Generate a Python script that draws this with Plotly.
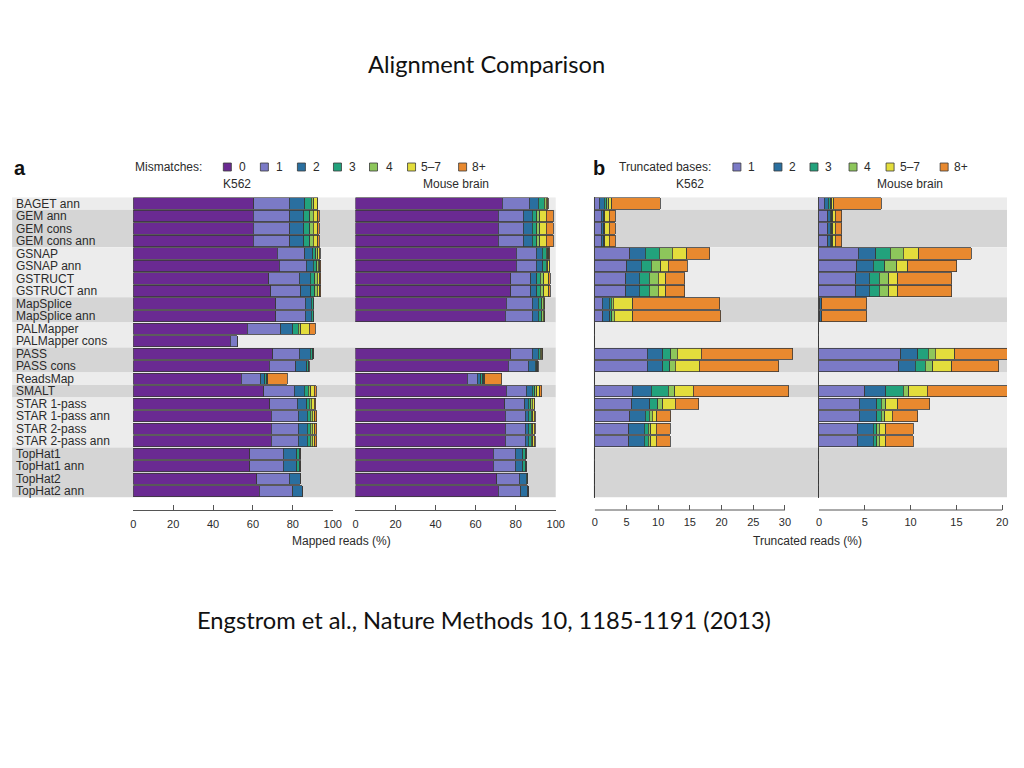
import plotly.graph_objects as go

# rows of the figure, top to bottom
tools = ["BAGET ann", "GEM ann", "GEM cons", "GEM cons ann", "GSNAP", "GSNAP ann",
         "GSTRUCT", "GSTRUCT ann", "MapSplice", "MapSplice ann", "PALMapper",
         "PALMapper cons", "PASS", "PASS cons", "ReadsMap", "SMALT", "STAR 1-pass",
         "STAR 1-pass ann", "STAR 2-pass", "STAR 2-pass ann", "TopHat1", "TopHat1 ann",
         "TopHat2", "TopHat2 ann"]
# tool family (GSTRUCT is built on GSNAP) -> alternating row shading
family = ["BAGET", "GEM", "GEM", "GEM", "GSNAP", "GSNAP", "GSNAP", "GSNAP",
          "MapSplice", "MapSplice", "PALMapper", "PALMapper", "PASS", "PASS",
          "ReadsMap", "SMALT", "STAR", "STAR", "STAR", "STAR",
          "TopHat", "TopHat", "TopHat", "TopHat"]

mismatch_labels = ["0", "1", "2", "3", "4", "5\u20137", "8+"]
trunc_labels = ["1", "2", "3", "4", "5\u20137", "8+"]

# panel a: mapped reads (%) split by number of mismatches
mapped_k562 = [
    [60.5, 17.7, 7.7, 3.2, 1.3, 1.8, 0.3],
    [60.1, 18.3, 7.0, 3.0, 1.7, 2.3, 0.8],
    [60.1, 18.3, 7.0, 3.0, 1.7, 2.3, 0.8],
    [60.1, 18.3, 7.0, 3.0, 1.7, 2.3, 0.8],
    [72.2, 13.7, 4.0, 1.7, 0.8, 0.9, 0.4],
    [73.2, 13.4, 3.7, 1.7, 0.8, 0.8, 0.3],
    [68.0, 15.1, 5.5, 2.4, 1.3, 1.3, 0.4],
    [68.8, 15.1, 5.0, 2.1, 1.3, 1.3, 0.4],
    [71.5, 14.8, 3.0, 0.8, 0.2, 0.1, 0.1],
    [71.5, 14.8, 3.0, 0.8, 0.2, 0.1, 0.1],
    [57.1, 16.8, 6.0, 2.7, 1.3, 4.4, 3.0],
    [48.7, 3.4, 0, 0, 0, 0, 0],
    [69.8, 13.3, 5.5, 1.0, 0.3, 0.2, 0.2],
    [68.2, 13.2, 5.5, 0.8, 0.2, 0.1, 0.1],
    [54.1, 9.7, 2.0, 1.0, 0.3, 0.4, 9.7],
    [65.5, 15.1, 5.0, 2.0, 1.3, 1.7, 1.2],
    [68.5, 13.7, 4.7, 1.4, 1.0, 1.3, 1.0],
    [69.2, 13.5, 4.6, 1.4, 0.9, 1.4, 1.0],
    [69.2, 13.5, 4.6, 1.4, 0.9, 1.4, 1.0],
    [69.2, 13.5, 4.6, 1.4, 0.9, 1.4, 1.0],
    [58.5, 16.7, 6.7, 1.5, 0.3, 0.1, 0.1],
    [58.5, 16.7, 6.7, 1.5, 0.3, 0.1, 0.1],
    [61.8, 16.4, 5.4, 0.2, 0, 0, 0],
    [63.1, 16.8, 4.7, 0.2, 0, 0, 0],
]
mapped_brain = [
    [73.2, 13.7, 4.4, 3.0, 1.0, 0.6, 0.4],
    [71.2, 12.7, 4.4, 2.3, 1.4, 3.3, 3.4],
    [71.2, 12.7, 4.4, 2.3, 1.4, 3.3, 3.4],
    [71.2, 12.7, 4.4, 2.3, 1.4, 3.3, 3.4],
    [80.2, 10.1, 3.0, 2.0, 0.8, 0.5, 0.4],
    [80.2, 10.1, 3.3, 1.7, 0.8, 0.6, 0.4],
    [77.6, 10.0, 3.0, 1.7, 1.7, 2.6, 0.6],
    [77.6, 10.0, 3.0, 1.7, 1.7, 2.6, 0.6],
    [75.2, 13.1, 3.0, 1.7, 0.8, 0.5, 0.3],
    [74.9, 13.4, 3.0, 1.7, 0.8, 0.5, 0.3],
    None,
    None,
    [77.6, 10.7, 3.0, 1.0, 0.6, 0.4, 0.3],
    [76.2, 10.1, 3.6, 0.7, 0.3, 0.2, 0.2],
    [55.8, 5.0, 1.7, 1.0, 0.5, 0.5, 8.5],
    [75.2, 10.1, 3.0, 1.3, 1.0, 1.4, 1.0],
    [74.5, 10.1, 1.7, 1.3, 0.8, 0.9, 0.3],
    [74.7, 10.0, 1.7, 1.3, 0.8, 0.9, 0.4],
    [74.7, 10.0, 1.7, 1.3, 0.8, 0.9, 0.4],
    [74.7, 10.0, 1.7, 1.3, 0.8, 0.9, 0.4],
    [68.8, 11.1, 3.7, 1.2, 0.3, 0.1, 0.1],
    [68.8, 11.1, 3.7, 1.2, 0.3, 0.1, 0.1],
    [70.5, 11.4, 3.5, 0.3, 0, 0, 0],
    [71.2, 11.4, 3.5, 0.3, 0, 0, 0],
]

# panel b: truncated reads (%) split by number of truncated bases
trunc_k562 = [
    [0.7, 0.8, 0.4, 0.3, 0.5, 7.6],
    [1.0, 0.4, 0.1, 0.1, 0.7, 0.9],
    [1.0, 0.4, 0.1, 0.1, 0.7, 0.9],
    [1.0, 0.4, 0.1, 0.1, 0.7, 0.9],
    [5.5, 2.5, 2.2, 2.0, 2.3, 3.6],
    [5.05, 2.25, 1.6, 1.5, 1.2, 3.0],
    [4.9, 2.15, 1.55, 1.4, 1.2, 3.0],
    [4.9, 2.15, 1.55, 1.4, 1.2, 3.0],
    [1.2, 1.1, 0.3, 0.3, 3.1, 13.7],
    [1.3, 1.1, 0.3, 0.4, 2.9, 13.9],
    [0, 0, 0, 0, 0, 0],
    [0, 0, 0, 0, 0, 0],
    [8.3, 2.4, 1.3, 1.05, 3.75, 14.4],
    [8.3, 2.4, 1.1, 0.9, 3.8, 12.55],
    [0, 0, 0, 0, 0, 0],
    [5.9, 3.0, 2.7, 1.0, 2.9, 15.1],
    [5.8, 2.9, 1.2, 0.8, 2.0, 3.7],
    [5.5, 2.5, 0.6, 0.45, 0.75, 2.2],
    [5.4, 2.4, 0.6, 0.45, 0.85, 2.2],
    [5.4, 2.4, 0.6, 0.45, 0.85, 2.2],
    [0, 0, 0, 0, 0, 0],
    [0, 0, 0, 0, 0, 0],
    [0, 0, 0, 0, 0, 0],
    [0, 0, 0, 0, 0, 0],
]
trunc_brain = [
    [0.6, 0.4, 0.3, 0.1, 0.2, 5.2],
    [0.95, 0.3, 0.15, 0.1, 0.3, 0.7],
    [0.95, 0.3, 0.15, 0.1, 0.3, 0.7],
    [0.95, 0.3, 0.15, 0.1, 0.3, 0.7],
    [4.3, 1.9, 1.6, 1.4, 1.7, 5.7],
    [4.1, 1.8, 1.3, 1.3, 1.2, 5.35],
    [4.0, 1.5, 1.1, 1.0, 1.0, 5.9],
    [4.0, 1.5, 1.1, 1.0, 1.0, 5.9],
    [0.1, 0.2, 0, 0, 0, 4.9],
    [0.1, 0.2, 0, 0, 0, 4.9],
    [0, 0, 0, 0, 0, 0],
    [0, 0, 0, 0, 0, 0],
    [8.9, 1.9, 1.1, 0.8, 2.1, 6.9],
    [8.7, 1.8, 1.1, 0.8, 2.1, 5.1],
    [0, 0, 0, 0, 0, 0],
    [5.0, 2.3, 1.9, 0.6, 2.0, 9.4],
    [4.4, 1.9, 0.5, 0.5, 1.3, 3.5],
    [4.4, 1.9, 0.5, 0.4, 0.8, 2.8],
    [4.2, 1.7, 0.4, 0.3, 0.7, 3.0],
    [4.2, 1.7, 0.4, 0.3, 0.7, 3.0],
    [0, 0, 0, 0, 0, 0],
    [0, 0, 0, 0, 0, 0],
    [0, 0, 0, 0, 0, 0],
    [0, 0, 0, 0, 0, 0],
]

mapped_ticks = [0, 20, 40, 60, 80, 100]
trunc_k562_ticks = [0, 5, 10, 15, 20, 25, 30]
trunc_brain_ticks = [0, 5, 10, 15, 20]

title = "Alignment Comparison"
source = "Engstrom et al., Nature Methods 10, 1185-1191 (2013)"

# ---- styling ----
mm_colors = ["#6a2a92", "#7b7ac6", "#2a6f9f", "#22a27c", "#8dc65b", "#e3dd3c", "#e8892f"]
tr_colors = mm_colors[1:]
edge = "#3a3a3a"
light_band = "#ececec"
dark_band = "#d5d5d5"
txt = "#2b2b2b"
fig_font = "Liberation Sans"
slide_font = "Lato"
# page body keeps an 8px margin; the captured page also comes out a little
# narrower than laid out, so x positions are pre-stretched to land right
PAD = 8
W, H = 1024 - 2 * PAD, 744
SX_OFF, SX_SCALE = 3.0, 0.987


def page_x(x):
    return (x - SX_OFF) / SX_SCALE


def px(x):
    return min(1.0, max(0.0, (page_x(x) - PAD) / W))


def py(y):
    return min(1.0, max(0.0, 1 - (y - PAD) / H))


fig = go.Figure()


def add_panel(table, labels, colors, xaxis):
    for k, (lab, col) in enumerate(zip(labels, colors)):
        vals = [None if row is None else row[k] for row in table]
        fig.add_trace(go.Bar(
            y=tools, x=vals, orientation="h", xaxis=xaxis, yaxis="y",
            name=lab, width=0.9, showlegend=False,
            marker=dict(color=col, line=dict(color=edge, width=0.8)),
        ))


add_panel(mapped_k562, mismatch_labels, mm_colors, "x")
add_panel(mapped_brain, mismatch_labels, mm_colors, "x2")
add_panel(trunc_k562, trunc_labels, tr_colors, "x3")
add_panel(trunc_brain, trunc_labels, tr_colors, "x4")

shapes = []
annotations = []

# alternating background bands per tool family
runs = []
for i, f in enumerate(family):
    if runs and runs[-1][0] == f:
        runs[-1][2] = i
    else:
        runs.append([f, i, i])
for n, (f, i0, i1) in enumerate(runs):
    col = light_band if n % 2 == 0 else dark_band
    for x0, x1 in [(12, 555), (593, 1020)]:
        shapes.append(dict(type="rect", xref="paper", yref="y", layer="below",
                           x0=px(x0), x1=px(x1), y0=i0 - 0.5, y1=i1 + 0.5,
                           fillcolor=col, line=dict(width=0)))

# row labels
for t in tools:
    annotations.append(dict(x=px(14), y=t, xref="paper", yref="y", text=t,
                            showarrow=False, xanchor="left", yanchor="middle",
                            font=dict(size=12, color=txt, family=fig_font)))

# axis base lines for panel b (tick range shorter than data range)
for ax, end in [("x3", trunc_k562_ticks[-1]), ("x4", trunc_brain_ticks[-1])]:
    shapes.append(dict(type="line", xref=ax, yref="paper", x0=0, x1=end,
                       y0=py(510), y1=py(510), line=dict(color="#555", width=1)))


def text(x, y, s, size=12, anchor="center", family=fig_font, color=txt, bold=False):
    if bold:
        s = "<b>" + s + "</b>"
    annotations.append(dict(x=px(x), y=py(y), xref="paper", yref="paper", text=s,
                            showarrow=False, xanchor=anchor, yanchor="middle",
                            font=dict(size=size, color=color, family=family)))


# legends
def legend(entries, colors, sq_x, lab_x, y=167):
    for lab, col, sx, lx in zip(entries, colors, sq_x, lab_x):
        shapes.append(dict(type="rect", xref="paper", yref="paper",
                           x0=px(sx - 4), x1=px(sx + 4), y0=py(y + 4), y1=py(y - 4),
                           fillcolor=col, line=dict(color=edge, width=0.8)))
        text(lx, y, lab, anchor="left")


text(20, 168, "a", size=20, bold=True, color="#111")
text(133, 167, "Mismatches:", anchor="left")
legend(mismatch_labels, mm_colors,
       [227, 264, 301, 337, 373, 411, 462],
       [237, 274, 311, 347, 383, 418, 469])
text(598, 168, "b", size=20, bold=True, color="#111")
text(616, 167, "Truncated bases:", anchor="left")
legend(trunc_labels, tr_colors,
       [736, 777, 813, 852, 889, 943],
       [745, 786, 822, 861, 897, 951])

text(237, 184, "K562")
text(455, 184, "Mouse brain")
text(689, 184, "K562")
text(909, 184, "Mouse brain")
text(341, 541, "Mapped reads (%)")
text(807, 541, "Truncated reads (%)")

text(486, 64, title, size=23.7, family=slide_font, color="#111")
text(483, 620, source, size=23.7, family=slide_font, color="#111")

axis_common = dict(anchor="free", position=py(510), showgrid=False, ticks="inside",
                   ticklen=5, tickcolor="#555", tickwidth=1, ticklabelstandoff=4,
                   tickfont=dict(size=11, color=txt, family=fig_font),
                   fixedrange=True)

# panel b axes: pixel positions of 0 and of the last tick
k562_b_zero, k562_b_last = 594, 784
brain_b_zero, brain_b_last = 818, 1001
k562_b_max = 32
brain_b_max = 22
k562_b_end = k562_b_zero + (k562_b_last - k562_b_zero) * k562_b_max / trunc_k562_ticks[-1]
brain_b_end = brain_b_zero + (brain_b_last - brain_b_zero) * brain_b_max / trunc_brain_ticks[-1]
# the page ends before the right end of the last axis: trim range to fit
brain_b_room = (px(brain_b_end) - px(brain_b_zero)) / (
    (page_x(brain_b_end) - page_x(brain_b_zero)) / W)
brain_b_max = brain_b_max * min(1.0, brain_b_room)

fig.update_layout(
    width=W, height=H,
    margin=dict(l=0, r=0, t=0, b=0),
    paper_bgcolor="white", plot_bgcolor="rgba(0,0,0,0)",
    barmode="stack", bargap=0.1,
    showlegend=False,
    shapes=shapes, annotations=annotations,
    yaxis=dict(domain=[py(497.5), py(197.3)], range=[23.5, -0.5], type="category",
               categoryorder="array", categoryarray=tools, visible=False,
               anchor="x", fixedrange=True),
    xaxis=dict(domain=[px(133), px(332.3)], range=[0, 100], tickvals=mapped_ticks,
               showline=True, linecolor="#555", linewidth=1, zeroline=False, **axis_common),
    xaxis2=dict(domain=[px(355), px(555)], range=[0, 100], tickvals=mapped_ticks,
                showline=True, linecolor="#555", linewidth=1, zeroline=False, **axis_common),
    xaxis3=dict(domain=[px(k562_b_zero), px(k562_b_end)],
                range=[0, k562_b_max], tickvals=trunc_k562_ticks, showline=False,
                zeroline=True, zerolinecolor="#444", zerolinewidth=1, **axis_common),
    xaxis4=dict(domain=[px(brain_b_zero), px(brain_b_end)],
                range=[0, brain_b_max], tickvals=trunc_brain_ticks, showline=False,
                zeroline=True, zerolinecolor="#444", zerolinewidth=1, **axis_common),
)

fig.write_html("out.html")
